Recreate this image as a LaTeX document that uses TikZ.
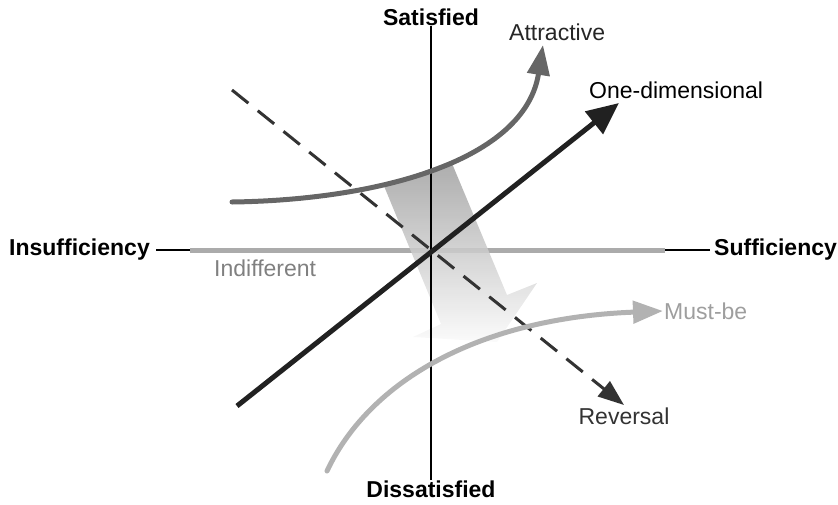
\documentclass[tikz,border=0pt]{standalone}
\usepackage{fontspec}
\setmainfont{Liberation Sans}
\usetikzlibrary{arrows.meta}
\begin{document}
\begin{tikzpicture}[x=1pt,y=-1pt,
  axis/.style={line width=2pt},
  axislabel/.style={font=\fontsize{23}{24}\selectfont\bfseries, inner sep=0pt},
  curvelabel/.style={font=\fontsize{23}{24}\selectfont, inner sep=0pt},
  trend/.style={line width=5pt}]
\useasboundingbox (0,0) rectangle (838,504);
% axis labels
\node[axislabel] (sat) at (431,17) {Satisfied};
\node[axislabel] (dis) at (431,489) {Dissatisfied};
\node[axislabel, anchor=east] (ins) at (150,250) {Insufficiency};
\node[axislabel, anchor=west] (suf) at (714,250) {Sufficiency};
% curve labels
\node[curvelabel, anchor=west, text=black!85] (att) at (509,32) {Attractive};
\node[curvelabel, anchor=west] (one) at (589,90) {One-dimensional};
\node[curvelabel, anchor=west, text=black!38] (must) at (664,311) {Must-be};
\node[curvelabel, text=black!80] (rev) at (624,416) {Reversal};
\node[curvelabel, anchor=west, text=black!50] (ind) at (214,268) {Indifferent};
% curve end points
\coordinate (indA) at (190,250);
\coordinate (indB) at (665,250);
\coordinate (attA) at (232,202);
\coordinate (attB) at (543,45);
\coordinate (oneA) at (237,406);
\coordinate (oneB) at (619,103);
\coordinate (revA) at (232,90);
\coordinate (revB) at (624,405);
\coordinate (mustA) at (327,471);
\coordinate (mustB) at (663,311);
% horizontal axis under indifferent
\draw[axis, shorten <=6pt, shorten >=4pt] (ins) -- (suf);
\draw[trend, black!33] (indA) -- (indB);
% shift arrow
\shade[top color=black!38, bottom color=black!2, opacity=0.85]
  (384,186) -- (451,161) -- (507,295) -- (537,283) -- (497,342)
  -- (413,337) -- (441,324) -- cycle;
% vertical axis
\draw[axis] (sat) -- (dis);
% reversal
\draw[line width=3pt, black!80, dash pattern=on 21pt off 12pt,
  -{Triangle[length=26pt,width=19pt]}] (revA) -- (revB);
% one-dimensional
\draw[trend, black!87, -{Triangle[length=32pt,width=28pt]}] (oneA) -- (oneB);
% attractive
\draw[trend, black!60, line cap=round, -{Triangle[length=30pt,width=22pt]}]
  (attA) .. controls (380,200) and (525,160) .. (attB);
% must-be
\draw[trend, black!30, line cap=round, -{Triangle[length=30pt,width=22pt]}]
  (mustA) .. controls (370,380) and (480,318) .. (mustB);
\end{tikzpicture}
\end{document}
